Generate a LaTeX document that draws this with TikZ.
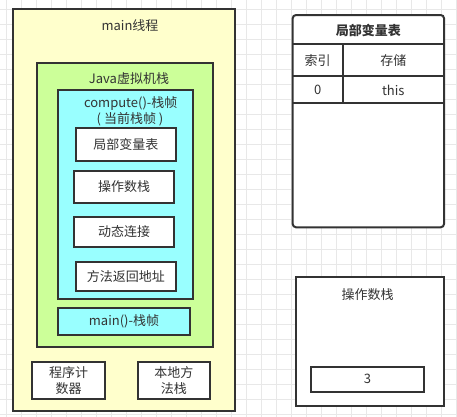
\documentclass[tikz,border=0pt]{standalone}
\usepackage{fontspec}
\setmainfont{Noto Sans CJK SC}
\definecolor{gridc}{HTML}{E8E8E8}
\definecolor{edge}{HTML}{333333}
\definecolor{txt}{HTML}{333333}
\definecolor{ylw}{HTML}{FFFFCC}
\definecolor{grn}{HTML}{CCFF99}
\definecolor{cyn}{HTML}{99FFFF}
\tikzset{
  box/.style={draw=edge, line width=1.5pt, rectangle, inner sep=0pt, text=txt, align=center, font=\fontsize{9.75pt}{12pt}\selectfont},
  lbl/.style={text=txt, inner sep=0pt, align=center, font=\fontsize{9.75pt}{12pt}\selectfont},
  rule/.style={draw=edge, line width=1.5pt},
}
\begin{document}
\begin{tikzpicture}[x=0.75pt,y=-0.75pt]
\fill[white] (0,0) rectangle (457,417);
\useasboundingbox (0,0) rectangle (457,417);
% grid
\foreach \i in {0,...,30} {
  \draw[gridc, line width=0.75pt] ({6.7+15*\i},0) -- ({6.7+15*\i},417);
}
\foreach \j in {0,...,27} {
  \draw[gridc, line width=0.75pt] (0,{9.3+15*\j}) -- (457,{9.3+15*\j});
}
% main thread
\node[box, fill=ylw, minimum width=166.7pt, minimum height=301.3pt] (main) at (123.85,209.85) {};
\node[lbl] (mainT) at (130,25.7) {main线程};
\node[box, fill=grn, minimum width=132.2pt, minimum height=213pt] (jvm) at (124.85,204.7) {};
\node[lbl] (jvmT) at (129,79) {Java虚拟机栈};
\node[box, fill=cyn, minimum width=101pt, minimum height=157pt] (comp) at (125.35,194.35) {};
\node[lbl] (compT) at (130.7,104) {compute()-栈帧};
\node[lbl] (compT2) at (130,119.3) {( 当前栈帧 )};
\node[box, fill=white, minimum width=75.2pt, minimum height=24.75pt] (lvt) at (125.85,144.5) {局部变量表};
\node[box, fill=white, minimum width=75.5pt, minimum height=24pt] (ops) at (124,186.7) {操作数栈};
\node[box, fill=white, minimum width=75.5pt, minimum height=22.7pt] (dyn) at (124,231.85) {动态连接};
\node[box, fill=white, minimum width=75.2pt, minimum height=21.5pt] (ret) at (125.85,276.65) {方法返回地址};
\node[box, fill=cyn, minimum width=99pt, minimum height=20pt] (mframe) at (124,321.65) {main()-栈帧};
\node[box, fill=white, minimum width=54.5pt, minimum height=28pt] (pc) at (68.65,380.35) {程序计\\数器};
\node[box, fill=white, minimum width=54.2pt, minimum height=28pt] (nat) at (173.85,380.35) {本地方\\法栈};
% local variable table
\node[box, fill=white, rounded corners=2.5pt, minimum width=113.5pt, minimum height=159.2pt] (tbl) at (368.35,121.15) {};
\node[lbl, font=\fontsize{9.75pt}{12pt}\selectfont\bfseries] (tblT) at (368.35,30) {局部变量表};
\coordinate (h1l) at (292.7,44.3); \coordinate (h1r) at (444,44.3);
\coordinate (h2l) at (292.7,76);   \coordinate (h2r) at (444,76);
\coordinate (h3l) at (292.7,102.7);\coordinate (h3r) at (444,102.7);
\coordinate (vt) at (342.7,44.3);  \coordinate (vb) at (342.7,102.7);
\draw[rule] (h1l) -- (h1r);
\draw[rule] (h2l) -- (h2r);
\draw[rule] (h3l) -- (h3r);
\draw[rule] (vt) -- (vb);
\node[lbl] (c11) at (317.7,61) {索引};
\node[lbl] (c12) at (393.3,61) {存储};
\node[lbl] (c21) at (317.7,90) {0};
\node[lbl] (c22) at (393.3,90) {this};
% operand stack
\node[box, fill=white, minimum width=111.5pt, minimum height=96.3pt] (opst) at (370,341.5) {};
\node[lbl] (opstT) at (367.5,295) {操作数栈};
\node[box, fill=white, minimum width=85.2pt, minimum height=18.75pt] (three) at (367.5,379.2) {3};
\end{tikzpicture}
\end{document}
